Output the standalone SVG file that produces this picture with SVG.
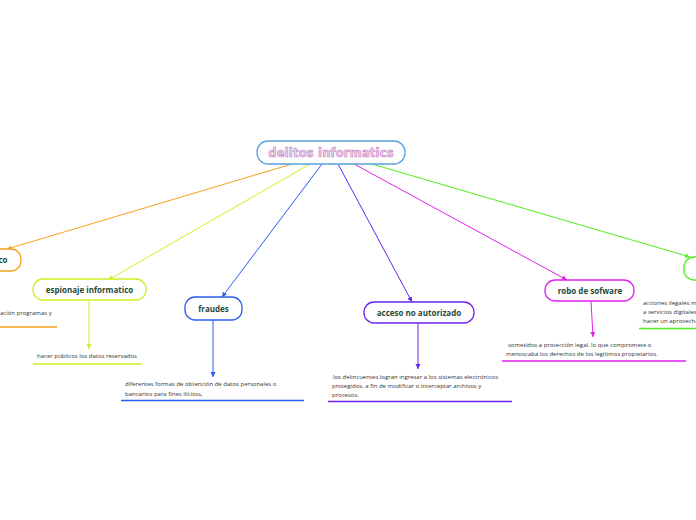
<svg xmlns="http://www.w3.org/2000/svg" width="696" height="520" viewBox="0 0 696 520">
<style>
.node{fill:#fff;stroke-width:1.3}
.lbl{font-family:"Open Sans","Liberation Sans",sans-serif;font-weight:bold;font-size:8px;fill:#1d4a3c;text-anchor:middle}
.txt{font-family:"Open Sans","Liberation Sans",sans-serif;font-size:6px;fill:#333}
.c{fill:none;stroke-width:1}
.u{stroke-width:1.4}
</style>
<defs>
<marker id="aO" markerWidth="6" markerHeight="6" refX="5" refY="3" orient="auto" markerUnits="userSpaceOnUse"><path d="M0,0.5 L5,3 L0,5.5z" fill="#f5a020"/></marker>
<marker id="aY" markerWidth="6" markerHeight="6" refX="5" refY="3" orient="auto" markerUnits="userSpaceOnUse"><path d="M0,0.5 L5,3 L0,5.5z" fill="#cdf020"/></marker>
<marker id="aB" markerWidth="6" markerHeight="6" refX="5" refY="3" orient="auto" markerUnits="userSpaceOnUse"><path d="M0,0.5 L5,3 L0,5.5z" fill="#2a5cf0"/></marker>
<marker id="aP" markerWidth="6" markerHeight="6" refX="5" refY="3" orient="auto" markerUnits="userSpaceOnUse"><path d="M0,0.5 L5,3 L0,5.5z" fill="#6a22f0"/></marker>
<marker id="aM" markerWidth="6" markerHeight="6" refX="5" refY="3" orient="auto" markerUnits="userSpaceOnUse"><path d="M0,0.5 L5,3 L0,5.5z" fill="#e020f0"/></marker>
<marker id="aG" markerWidth="6" markerHeight="6" refX="5" refY="3" orient="auto" markerUnits="userSpaceOnUse"><path d="M0,0.5 L5,3 L0,5.5z" fill="#50ee20"/></marker>
</defs>
<rect width="696" height="520" fill="#fff"/>
<g id="connectors">
<line class="c" x1="292" y1="164" x2="7" y2="249" stroke="#f5a020" marker-end="url(#aO)"/>
<line class="c" x1="310" y1="164" x2="108" y2="280" stroke="#cdf020" marker-end="url(#aY)"/>
<line class="c" x1="322" y1="164" x2="222" y2="297" stroke="#2a5cf0" marker-end="url(#aB)"/>
<line class="c" x1="338" y1="164" x2="412" y2="302" stroke="#6a22f0" marker-end="url(#aP)"/>
<line class="c" x1="354" y1="164" x2="567" y2="280" stroke="#e020f0" marker-end="url(#aM)"/>
<line class="c" x1="372" y1="164" x2="690" y2="257" stroke="#50ee20" marker-end="url(#aG)"/>
<line class="c" x1="89" y1="300" x2="89" y2="349" stroke="#cdf020" marker-end="url(#aY)"/>
<line class="c" x1="213" y1="320" x2="213" y2="377" stroke="#2a5cf0" marker-end="url(#aB)"/>
<line class="c" x1="418" y1="323" x2="418" y2="369" stroke="#6a22f0" marker-end="url(#aP)"/>
<line class="c" x1="591" y1="301" x2="593" y2="337" stroke="#e020f0" marker-end="url(#aM)"/>
</g>
<g id="root">
<rect x="257" y="141" width="148" height="23" rx="11" fill="#fff" stroke="#5aa0dc" stroke-width="1.3"/>
<text x="331" y="156.5" text-anchor="middle" font-family="'DejaVu Sans',sans-serif" font-weight="bold" font-size="11.5px" letter-spacing="0.2" fill="#f2d4ee" stroke="#c080c4" stroke-width="0.6">delitos informatics</text>
</g>
<g id="n-orange">
<rect class="node" x="-20" y="249" width="41" height="22" rx="10" stroke="#f5a020"/>
<text class="lbl" x="3" y="263">co</text>
<text class="txt" x="0" y="314.5">ación programas y</text>
<line class="u" x1="0" y1="327" x2="57" y2="327" stroke="#f5a020"/>
</g>
<g id="n-espionaje">
<rect class="node" x="33" y="279" width="113" height="21" rx="10" stroke="#cdf020"/>
<text class="lbl" x="89.5" y="292.5">espionaje informatico</text>
<text class="txt" x="37" y="358">hacer públicos los datos reservados</text>
<line class="u" x1="33" y1="364" x2="142" y2="364" stroke="#cdf020"/>
</g>
<g id="n-fraudes">
<rect class="node" x="185" y="297" width="57" height="23" rx="10" stroke="#2a5cf0"/>
<text class="lbl" x="213.5" y="311.5">fraudes</text>
<text class="txt" x="125" y="386">diferentes formas de obtención de datos personales o</text>
<text class="txt" x="125" y="395.5">bancarios para fines ilícitos,</text>
<line class="u" x1="121" y1="400.5" x2="304" y2="400.5" stroke="#2a5cf0"/>
</g>
<g id="n-acceso">
<rect class="node" x="364" y="302" width="110" height="21" rx="10" stroke="#6a22f0"/>
<text class="lbl" x="419" y="315.5">acceso no autorizado</text>
<text class="txt" x="333" y="379"> los delincuentes logran ingresar a los sistemas electrónicos</text>
<text class="txt" x="332" y="388">protegidos, a fin de modificar o interceptar archivos y</text>
<text class="txt" x="332" y="397">procesos.</text>
<line class="u" x1="328" y1="401.5" x2="512" y2="401.5" stroke="#6a22f0"/>
</g>
<g id="n-robo">
<rect class="node" x="545" y="280" width="89" height="21" rx="10" stroke="#e020f0"/>
<text class="lbl" x="590" y="293.5">robo de sofware</text>
<text class="txt" x="508" y="346.5">sometidos a protección legal, lo que compromete o</text>
<text class="txt" x="506" y="356">menoscaba los derechos de los legítimos propietarios.</text>
<line class="u" x1="502" y1="361" x2="686" y2="361" stroke="#e020f0"/>
</g>
<g id="n-green">
<rect class="node" x="684" y="257" width="40" height="23" rx="10" stroke="#50ee20"/>
<text class="txt" x="643" y="305">acciones ilegales m</text>
<text class="txt" x="643" y="314">a servicios digitales</text>
<text class="txt" x="643" y="323">hacer un aprovecha</text>
<line class="u" x1="639" y1="328.5" x2="696" y2="328.5" stroke="#50ee20"/>
</g>
</svg>
